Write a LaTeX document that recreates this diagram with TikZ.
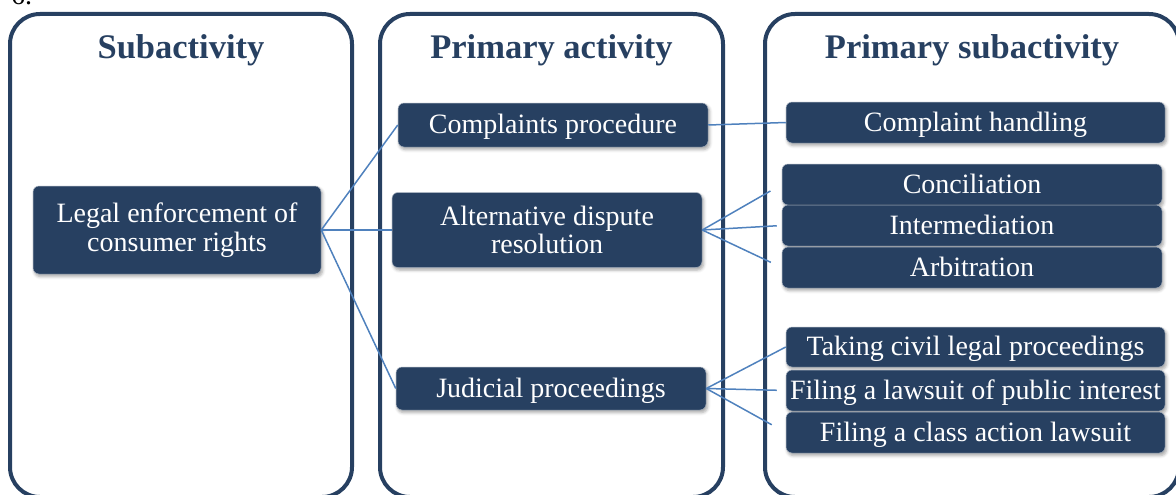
\documentclass[tikz,border=0pt]{standalone}
\usepackage{fontspec}
\setmainfont{Liberation Serif}
\usetikzlibrary{shadows.blur}
\definecolor{navy}{RGB}{39,64,97}
\definecolor{linkblue}{RGB}{79,129,189}

\begin{document}
\begin{tikzpicture}[x=1pt,y=-1pt,
  panel/.style={draw=navy, line width=4pt, rounded corners=30pt},
  head/.style={font=\fontsize{34.5}{36}\selectfont\bfseries, text=navy,
    anchor=base, inner sep=0pt},
  item/.style={fill=navy, draw=white!60!navy, line width=0.5pt, text=white,
    rounded corners=6pt, inner sep=0pt,
    font=\fontsize{28}{28.5}\selectfont,
    blur shadow={shadow xshift=1.5pt, shadow yshift=-2.5pt,
      shadow blur radius=3pt, shadow opacity=35}},
  one/.style={text height=20pt, text depth=3pt},
  two/.style={align=center},
  conn/.style={draw=linkblue, line width=1.5pt}]

\useasboundingbox (0,0) rectangle (1176,495);

% section number, mostly above the page
\node[anchor=base west, inner sep=0pt, font=\fontsize{28}{30}\selectfont] (num) at (11,5) {6.};

% the three columns
\draw[panel] (10,14) rectangle (352,497);
\draw[panel] (380,14) rectangle (723,497);
\draw[panel] (765,14) rectangle (1179,497);

\node[head] (h1) at (181,59) {Subactivity};
\node[head] (h2) at (551.5,59) {Primary activity};
\node[head] (h3) at (972,59) {Primary subactivity};

% boxes
\node[item, two, minimum width=288pt, minimum height=88pt] (legal) at (177,230)
  {Legal enforcement of\\consumer rights};

\node[item, one, minimum width=310pt, minimum height=44pt] (cproc) at (553,125) {Complaints procedure};
\node[item, two, minimum width=310pt, minimum height=75pt] (adr) at (547,230)
  {Alternative dispute\\resolution};
\node[item, one, minimum width=310pt, minimum height=43pt] (judic) at (551,388.5) {Judicial proceedings};

\node[item, one, minimum width=379pt, minimum height=41pt] (chand) at (975.5,122.5) {Complaint handling};

\node[item, one, minimum width=380pt, minimum height=41pt] (concil) at (972,184.5) {Conciliation};
\node[item, one, minimum width=380pt, minimum height=41pt] (interm) at (972,225.5) {Intermediation};
\node[item, one, minimum width=380pt, minimum height=41pt] (arbit) at (972,267.5) {Arbitration};

\node[item, one, minimum width=379pt, minimum height=40pt] (civil) at (975.5,347) {Taking civil legal proceedings};
\node[item, one, minimum width=379pt, minimum height=41pt] (public) at (975.5,390.5) {Filing a lawsuit of public interest};
\node[item, one, minimum width=379pt, minimum height=41pt] (classact) at (975.5,432.5) {Filing a class action lawsuit};

% connectors
\draw[conn] (legal.east) -- (cproc.west);
\draw[conn] (legal.east) -- (adr.west);
\draw[conn] (legal.east) -- (judic.west);
\draw[conn] (cproc.east) -- (chand.west);
\draw[conn, shorten >=13pt] (adr.east) -- (concil.west);
\draw[conn, shorten >=5pt] (adr.east) -- (interm.west);
\draw[conn, shorten >=12pt] (adr.east) -- (arbit.west);
\draw[conn] (judic.east) -- (civil.west);
\draw[conn, shorten >=9pt] (judic.east) -- (public.west);
\draw[conn, shorten >=16pt] (judic.east) -- (classact.west);
\end{tikzpicture}
\end{document}
